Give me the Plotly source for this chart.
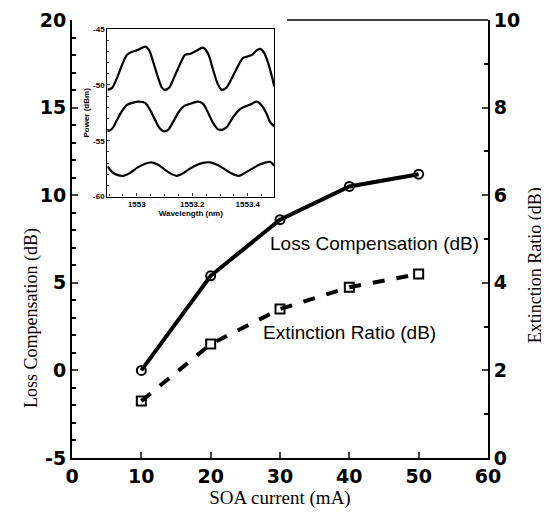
import plotly.graph_objects as go

# Main data
soa_current = [10, 20, 30, 40, 50]
loss_comp = [0.0, 5.4, 8.6, 10.5, 11.2]
ext_ratio = [1.3, 2.6, 3.4, 3.9, 4.2]

# Tick labels (hyphen minus as in the reference)
left_tickvals = [-5, 0, 5, 10, 15, 20]
left_ticktext = ["-5", "0", "5", "10", "15", "20"]
inset_tickvals = [-60, -55, -50, -45]
inset_ticktext = ["-60", "-55", "-50", "-45"]
wl_tickvals = [1553, 1553.2, 1553.4]
wl_ticktext = ["1553", "1553.2", "1553.4"]

# Inset spectra (wavelength nm, power dBm)
wl_top = [1552.894, 1552.911, 1552.929, 1552.947, 1552.965, 1552.983, 1553.005, 1553.030,
          1553.044, 1553.059, 1553.077, 1553.091, 1553.102, 1553.116, 1553.134, 1553.156,
          1553.174, 1553.192, 1553.214, 1553.239, 1553.257, 1553.275, 1553.293, 1553.306,
          1553.322, 1553.343, 1553.365, 1553.383, 1553.397, 1553.415, 1553.430, 1553.444,
          1553.459, 1553.473, 1553.488, 1553.495]
p_top = [-50.44, -50.26, -49.36, -48.20, -47.30, -47.03, -46.85, -46.56,
         -46.85, -47.93, -49.36, -50.26, -50.44, -50.26, -49.36, -48.11,
         -47.30, -47.21, -46.94, -46.65, -47.21, -48.65, -49.99, -50.44,
         -50.26, -49.36, -48.29, -47.57, -47.46, -47.30, -46.94, -46.77,
         -47.12, -48.02, -49.36, -50.14]

wl_mid = [1552.894, 1552.911, 1552.929, 1552.947, 1552.965, 1552.983, 1553.008, 1553.030,
          1553.048, 1553.066, 1553.084, 1553.098, 1553.113, 1553.131, 1553.149, 1553.167,
          1553.192, 1553.221, 1553.239, 1553.257, 1553.275, 1553.293, 1553.307, 1553.325,
          1553.343, 1553.365, 1553.387, 1553.408, 1553.432, 1553.448, 1553.466, 1553.480,
          1553.495]
p_mid = [-54.18, -53.93, -53.13, -52.32, -51.78, -51.60, -51.49, -51.60,
         -52.23, -53.13, -53.93, -54.16, -54.02, -53.31, -52.50, -51.96,
         -51.69, -51.49, -51.69, -52.50, -53.40, -53.98, -54.02, -53.75,
         -53.04, -52.32, -51.96, -51.78, -51.49, -51.78, -52.50, -53.31,
         -53.73]

wl_bot = [1552.894, 1552.911, 1552.929, 1552.952, 1552.976, 1553.001, 1553.030, 1553.054,
          1553.077, 1553.102, 1553.124, 1553.144, 1553.163, 1553.185, 1553.210, 1553.239,
          1553.264, 1553.289, 1553.315, 1553.340, 1553.367, 1553.390, 1553.415, 1553.441,
          1553.466, 1553.480, 1553.495]
p_bot = [-57.31, -57.79, -58.06, -58.15, -57.88, -57.43, -57.07, -56.94,
         -57.16, -57.61, -57.97, -58.15, -57.97, -57.61, -57.25, -56.98,
         -56.94, -57.16, -57.52, -57.92, -58.15, -57.88, -57.52, -57.16,
         -56.94, -56.89, -57.25]

SANS = "Liberation Sans"
SERIF = "Liberation Serif"

fig = go.Figure()

fig.add_trace(go.Scatter(
    x=soa_current, y=loss_comp, mode="lines+markers",
    line=dict(color="black", width=4),
    marker=dict(symbol="circle-open", size=9, color="black", line=dict(width=2)),
    showlegend=False))

fig.add_trace(go.Scatter(
    x=soa_current, y=ext_ratio, mode="lines+markers", yaxis="y2",
    line=dict(color="black", width=4, dash="dash"),
    marker=dict(symbol="square-open", size=9, color="black", line=dict(width=2)),
    showlegend=False))

for wl, p in [(wl_top, p_top), (wl_mid, p_mid), (wl_bot, p_bot)]:
    fig.add_trace(go.Scatter(
        x=wl, y=p, mode="lines", xaxis="x3", yaxis="y3",
        line=dict(color="black", width=2.2, shape="spline", smoothing=0.8),
        showlegend=False))

tickfont_main = dict(family="DejaVu Sans", size=19, color="black", weight="bold")
titlefont_main = dict(family=SERIF, size=18, color="black")
inset_font = dict(family=SANS, size=8, color="black", weight="bold")

# page body adds an 8px offset, so the figure is sized/margined to compensate
fig.update_layout(
    width=541, height=509,
    margin=dict(l=64, r=61, t=12, b=59),
    paper_bgcolor="white", plot_bgcolor="white",
    xaxis=dict(
        range=[0, 60], dtick=10, ticks="inside", ticklen=6, tickwidth=1.5,
        showline=True, linecolor="black", linewidth=2, showgrid=False, zeroline=False,
        tickfont=tickfont_main, automargin=False,
        title=dict(text="SOA current (mA)", font=dict(family=SERIF, size=19, color="black"), standoff=3)),
    yaxis=dict(
        range=[-5, 20], tickvals=left_tickvals, ticktext=left_ticktext,
        ticks="inside", ticklen=6, tickwidth=1.5,
        minor=dict(dtick=1, ticks="inside", ticklen=4, tickcolor="black"),
        showline=True, linecolor="black", linewidth=2, showgrid=False, zeroline=False,
        tickfont=tickfont_main, automargin=False),
    yaxis2=dict(
        range=[0, 10], dtick=2, overlaying="y", side="right", anchor="x",
        ticks="inside", ticklen=6, tickwidth=1.5,
        minor=dict(dtick=1, ticks="inside", ticklen=4, tickcolor="black"),
        showline=True, linecolor="black", linewidth=2, showgrid=False, zeroline=False,
        tickfont=tickfont_main, automargin=False),
    xaxis3=dict(
        domain=[0.085, 0.486], anchor="y3", range=[1552.894, 1553.495],
        tickvals=wl_tickvals, ticktext=wl_ticktext,
        ticks="inside", ticklen=3, minor=dict(dtick=0.05, ticks="inside", ticklen=2),
        showline=True, mirror=True, linecolor="black", linewidth=1.2,
        showgrid=False, zeroline=False, tickfont=inset_font, automargin=False,
        title=dict(text="Wavelength (nm)", font=inset_font, standoff=0)),
    yaxis3=dict(
        domain=[0.597, 0.979], anchor="x3", range=[-60, -45],
        tickvals=inset_tickvals, ticktext=inset_ticktext, ticks="inside", ticklen=3,
        minor=dict(dtick=1, ticks="inside", ticklen=2),
        showline=True, mirror=True, linecolor="black", linewidth=1.2,
        showgrid=False, zeroline=False, tickfont=inset_font, automargin=False,
        title=dict(text="Power (dBm)", font=inset_font, standoff=2)),
)

# partial top frame line of main plot (visible right of the inset)
fig.add_shape(type="line", xref="paper", yref="paper", x0=0.517, x1=1, y0=1, y1=1,
              line=dict(color="black", width=1.6))

# axis titles placed as in the reference
fig.add_annotation(x=-0.096, y=0.32, xref="paper", yref="paper", text="Loss Compensation (dB)",
                   textangle=-90, showarrow=False, xanchor="center", yanchor="middle",
                   font=titlefont_main)
fig.add_annotation(x=1.113, y=0.44, xref="paper", yref="paper", text="Extinction Ratio (dB)",
                   textangle=-90, showarrow=False, xanchor="center", yanchor="middle",
                   font=titlefont_main)

# in-plot labels
fig.add_annotation(x=43.6, y=7.27, xref="x", yref="y", text="Loss Compensation (dB)",
                   showarrow=False, font=dict(family=SANS, size=19, color="black"))
fig.add_annotation(x=40.0, y=2.15, xref="x", yref="y", text="Extinction Ratio (dB)",
                   showarrow=False, font=dict(family=SANS, size=19, color="black"))

fig.write_html("out.html")
